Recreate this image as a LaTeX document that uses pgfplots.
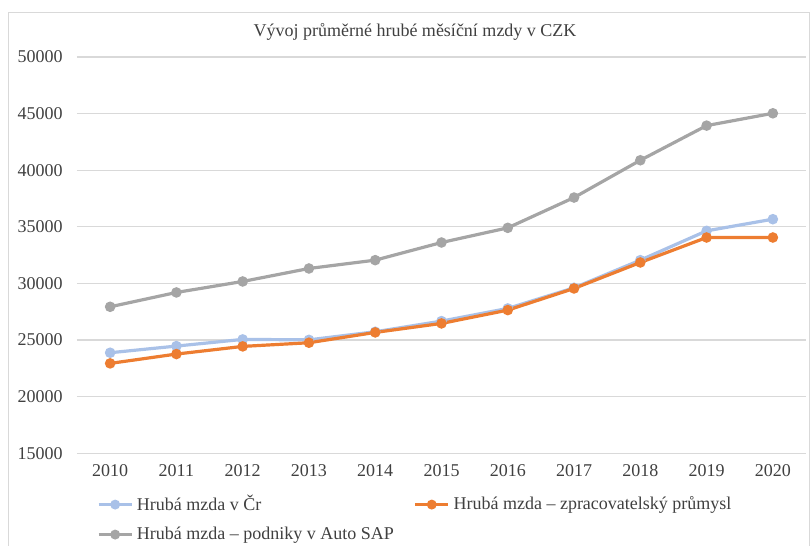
\documentclass[border=0pt]{standalone}
\usepackage{pgfplots}
\pgfplotsset{compat=1.18}
\usepackage{fontspec}
\setmainfont{Liberation Serif}
\definecolor{cblue}{HTML}{A9C1E8}
\definecolor{corange}{HTML}{ED7D31}
\definecolor{cgray}{HTML}{A5A5A5}
\definecolor{cgrid}{HTML}{D9D9D9}
\definecolor{ctext}{HTML}{404040}
\begin{document}
\begin{tikzpicture}
\path[use as bounding box] (0,0) rectangle (405pt,-273pt);
\draw[cgrid, line width=0.6pt] (4.2pt,-290pt) -- (4.2pt,-6.2pt) -- (404.6pt,-6.2pt) -- (404.6pt,-290pt);
\node[text=ctext, font=\fontsize{9pt}{11pt}\selectfont] at (207.5pt,-16pt) {Vývoj průměrné hrubé měsíční mzdy v CZK};
\begin{axis}[
  scale only axis, width=364.5pt, height=198.15pt,
  at={(38.5pt,-226.65pt)}, anchor=south west,
  xmin=2009.5, xmax=2020.5, ymin=15000, ymax=50000,
  xtick={2010,2011,...,2020}, ytick={15000,20000,...,50000},
  scaled y ticks=false, scaled x ticks=false,
  axis line style={draw=none}, major tick length=0pt,
  ymajorgrids, grid style={cgrid, line width=0.6pt},
  /pgf/number format/1000 sep={},
  /pgf/number format/assume math mode=true,
  tick label style={font=\fontsize{9pt}{11pt}\selectfont, text=ctext},
  yticklabel style={anchor=east, inner sep=0pt, xshift=-7pt},
  xticklabel style={anchor=north, inner sep=0pt, yshift=-5.5pt},
  legend columns=2,
  legend cell align=left,
  legend style={at={(axis description cs:0.0274,-0.095)}, anchor=north west,
    draw=none, fill=none, inner sep=0pt, row sep=2.5pt,
    font=\fontsize{9pt}{11pt}\selectfont, text=ctext,
    /tikz/every even column/.append style={column sep=8pt}},
  legend image code/.code={\draw[mark repeat=2,mark phase=2,#1, line width=1.3pt] plot coordinates {(0pt,0pt) (8.25pt,0pt) (16.5pt,0pt)};},
  every axis plot/.append style={line width=1.6pt, mark=*, mark size=1.8pt},
]
\addplot[color=cblue, mark options={fill=cblue, draw=cblue}] coordinates {
 (2010,23882) (2011,24470) (2012,25059) (2013,25020) (2014,25735) (2015,26676)
 (2016,27794) (2017,29618) (2018,32059) (2019,34647) (2020,35676)};
\addlegendentry{Hrubá mzda v Čr}
\addplot[color=corange, mark options={fill=corange, draw=corange}] coordinates {
 (2010,22941) (2011,23765) (2012,24441) (2013,24765) (2014,25676) (2015,26470)
 (2016,27647) (2017,29559) (2018,31853) (2019,34059) (2020,34059)};
\addlegendentry{Hrubá mzda – zpracovatelský průmysl}
\addplot[color=cgray, mark options={fill=cgray, draw=cgray}] coordinates {
 (2010,27940) (2011,29206) (2012,30176) (2013,31324) (2014,32059) (2015,33618)
 (2016,34912) (2017,37588) (2018,40882) (2019,43941) (2020,45029)};
\addlegendentry{Hrubá mzda – podniky v Auto SAP}
\end{axis}
\end{tikzpicture}
\end{document}
